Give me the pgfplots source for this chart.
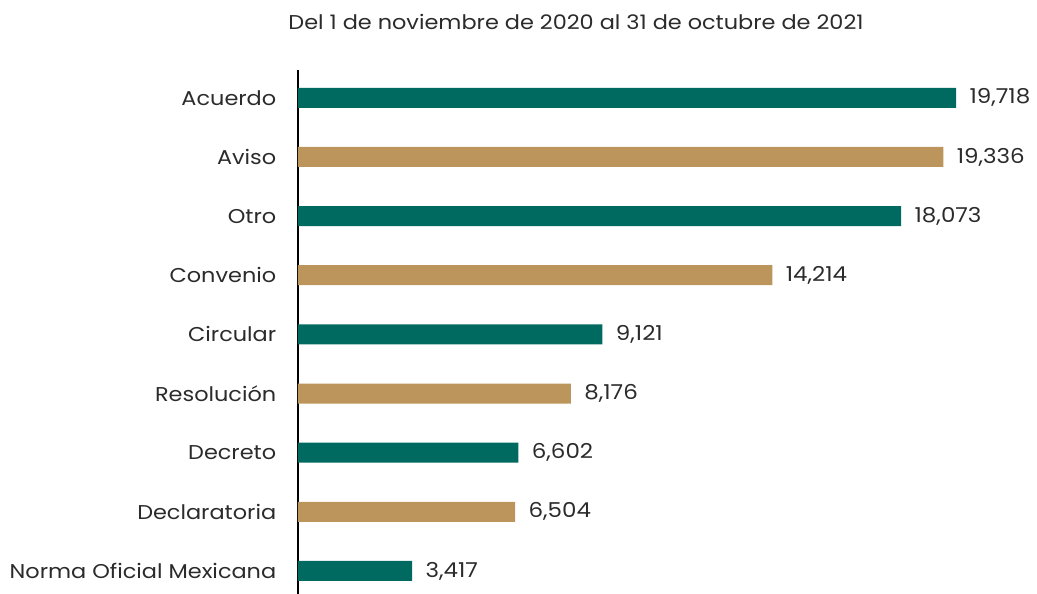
\documentclass[border=0pt]{standalone}
\usepackage{fontspec}
\setmainfont{Poppins}[FakeStretch=1.12]
\usepackage{pgfplots}
\pgfplotsset{compat=1.18}
\definecolor{teal1}{HTML}{006A60}
\definecolor{tan1}{HTML}{BC955C}
\definecolor{txt}{HTML}{2B2B2B}
\begin{document}
\begin{tikzpicture}
\begin{axis}[
  scale only axis,
  width=658bp, height=524bp,
  xmin=0, xmax=19718,
  ymin=-0.39, ymax=8.47,
  axis x line=none,
  axis y line=left,
  y axis line style={black, line width=1.5bp, -},
  ytick={0,1,2,3,4,5,6,7,8},
  yticklabels={Norma Oficial Mexicana,Declaratoria,Decreto,Resolución,Circular,Convenio,Otro,Aviso,Acuerdo},
  ytick style={draw=none},
  yticklabel style={font=\fontsize{20bp}{24bp}\selectfont, text=txt, anchor=east, xshift=-14bp},
  xbar, bar width=20bp, bar shift=0pt,
  nodes near coords,
  nodes near coords style={font=\fontsize{20.5bp}{24bp}\selectfont, text=txt, anchor=west, xshift=10bp},
  /pgf/number format/assume math mode=true,
  /pgf/number format/1000 sep={,},
  clip=false,
]
\addplot[fill=teal1, draw=none] coordinates {(19718,8) (18073,6) (9121,4) (6602,2) (3417,0)};
\addplot[fill=tan1, draw=none] coordinates {(19336,7) (14214,5) (8176,3) (6504,1)};
\end{axis}
\node[font=\fontsize{20bp}{24bp}\selectfont, text=txt] at ([xshift=278bp, yshift=572bp]current axis.south west) {Del 1 de noviembre de 2020 al 31 de octubre de 2021};
\pgfresetboundingbox
\path ([xshift=-298bp]current axis.south west) rectangle ([xshift=739bp, yshift=594bp]current axis.south west);
\end{tikzpicture}
\end{document}
